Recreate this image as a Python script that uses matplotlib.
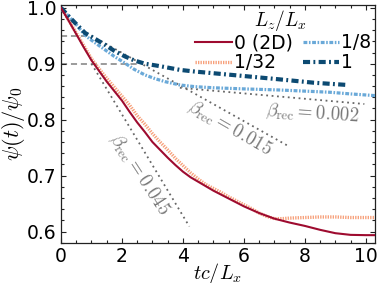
import matplotlib
matplotlib.use("Agg")
import matplotlib.pyplot as plt
from matplotlib.ticker import MultipleLocator

plt.rcParams['mathtext.fontset'] = 'cm'
plt.rcParams['font.family'] = ['DejaVu Sans']

# ---- data ----
t_2d = [0, 0.25, 0.5, 0.75, 1.0, 1.25, 1.5, 1.75, 2.0, 2.25, 2.5, 2.75, 3.0, 3.25, 3.5,
        3.75, 4.0, 4.25, 4.5, 4.75, 5.0, 5.5, 6.0, 6.5, 7.0, 7.5, 8.0, 8.5, 9.0, 9.5, 10.0, 10.3]
psi_2d = [1.000, 0.977, 0.953, 0.929, 0.906, 0.887, 0.868, 0.851, 0.834, 0.814, 0.795, 0.778,
          0.760, 0.746, 0.732, 0.719, 0.707, 0.697, 0.689, 0.681, 0.673, 0.659, 0.645, 0.633,
          0.623, 0.616, 0.610, 0.603, 0.597, 0.594, 0.5935, 0.5935]

t_32 = [0, 0.25, 0.5, 0.75, 1.0, 1.25, 1.5, 1.75, 2.0, 2.25, 2.5, 2.75, 3.0, 3.25, 3.5, 3.75,
        4.0, 4.25, 4.5, 4.75, 5.0, 5.25, 5.5, 5.75, 6.0, 6.25, 6.5, 6.75, 7.0, 7.25, 7.5, 8.0,
        8.5, 9.0, 9.5, 10.0, 10.3]
psi_32 = [1.000, 0.978, 0.955, 0.932, 0.909, 0.891, 0.874, 0.858, 0.842, 0.826, 0.807, 0.792,
          0.775, 0.760, 0.746, 0.731, 0.718, 0.705, 0.694, 0.684, 0.677, 0.670, 0.662, 0.655,
          0.648, 0.641, 0.633, 0.627, 0.623, 0.623, 0.624, 0.625, 0.626, 0.626, 0.625, 0.625, 0.625]

t_8 = [0, 0.25, 0.5, 0.79, 1.0, 1.44, 1.75, 2.1, 2.4, 2.75, 3.1, 3.41, 3.9, 4.39, 5.0, 6.0,
       7.18, 8.0, 8.82, 9.5, 10.3]
psi_8 = [1.000, 0.985, 0.970, 0.951, 0.942, 0.925, 0.913, 0.901, 0.890, 0.880, 0.873, 0.868,
         0.862, 0.859, 0.857, 0.855, 0.853, 0.851, 0.849, 0.846, 0.843]

t_1 = [0, 0.25, 0.5, 0.79, 1.1, 1.44, 1.75, 2.1, 2.4, 2.75, 3.1, 3.41, 3.9, 4.39, 5.0, 6.0,
       7.18, 8.3, 9.4]
psi_1 = [1.000, 0.985, 0.971, 0.955, 0.945, 0.934, 0.923, 0.913, 0.906, 0.900, 0.897, 0.894,
         0.889, 0.886, 0.883, 0.878, 0.872, 0.866, 0.862]

labels = ['0 (2D)', '1/32', '1/8', '1']
legend_title = r'$L_z/L_x$'

# threshold lines
thresholds = [0.95, 0.90]
threshold_end = [0.95, 2.6]

# recovery-rate reference lines
ref_beta = [0.045, 0.015, 0.002]
ref_t0 = [1.0, 1.0, 3.9]
ref_y0 = [0.900, 0.950, 0.857]
ref_t1 = [4.21, 7.45, 9.95]
ref_y1 = [0.609, 0.753, 0.828]
ref_label_t = [2.56, 5.54, 8.24]
ref_label_y = [0.703, 0.785, 0.811]
ref_label_rot = [-57, -30, -4]

# ---- plot ----
fig = plt.figure(figsize=(3.78, 2.83), dpi=100)
ax = fig.add_axes([61/378, 1-242.7/283, (375-61)/378, (242.7-5)/283])

for y, te in zip(thresholds, threshold_end):
    ax.plot([0, te], [y, y], color='#808080', lw=1.1, ls=(0, (4, 2.5)), zorder=1)

for b, t0, y0, t1, y1, lt, ly, rot in zip(ref_beta, ref_t0, ref_y0, ref_t1, ref_y1,
                                          ref_label_t, ref_label_y, ref_label_rot):
    ax.plot([t0, t1], [y0, y1], color='#666666', lw=1.3, ls=(0, (1, 2)), zorder=1)
    ax.text(lt, ly, r'$\beta_{\rm rec} = %s$' % ('%.3f' % b), color='#777777', fontsize=13.5,
            rotation=rot, ha='center', va='center', rotation_mode='anchor')

ax.plot(t_2d, psi_2d, color='#9e0b2f', lw=1.5, label=labels[0], zorder=4)
ax.plot(t_32, psi_32, color='#f7a07a', lw=2.4, ls=(0, (0.4, 0.35)), label=labels[1], zorder=3)
ax.plot(t_8, psi_8, color='#6aa9d8', lw=2.3, ls=(0, (1.2, 0.5, 0.5, 0.5)), label=labels[2], zorder=3)
ax.plot(t_1, psi_1, color='#0c4a72', lw=3.0, ls=(0, (1.7, 0.8, 0.45, 0.8)), label=labels[3], zorder=3)

ax.set_xlim(0, 10.3)
ax.set_ylim(0.58, 1.005)
ax.xaxis.set_major_locator(MultipleLocator(2))
ax.xaxis.set_minor_locator(MultipleLocator(0.5))
ax.yaxis.set_major_locator(MultipleLocator(0.1))
ax.yaxis.set_minor_locator(MultipleLocator(0.02))
ax.tick_params(which='both', direction='in', top=True, right=True, labelsize=13.5, width=0.8,
               color='#222222')
ax.tick_params(which='major', length=3.8, pad=3)
ax.tick_params(which='minor', length=2.2)
for s in ax.spines.values():
    s.set_linewidth(0.9)
    s.set_color('#222222')

ax.set_xlabel(r'$tc/L_x$', fontsize=14.5, labelpad=-3.5)
ax.set_ylabel(r'$\psi(t)/\psi_0$', fontsize=16, labelpad=0)

leg = ax.legend(ncol=2, loc='upper right', bbox_to_anchor=(1.0, 0.897), frameon=False,
                fontsize=13.5, handlelength=1.95,
                handletextpad=0.1, columnspacing=0.55, labelspacing=0.05, borderpad=0.2,
                borderaxespad=0.0)
ax.text(0.70, 0.935, legend_title, transform=ax.transAxes, fontsize=14,
        ha='center', va='center')

fig.savefig('out.png', dpi=100)
